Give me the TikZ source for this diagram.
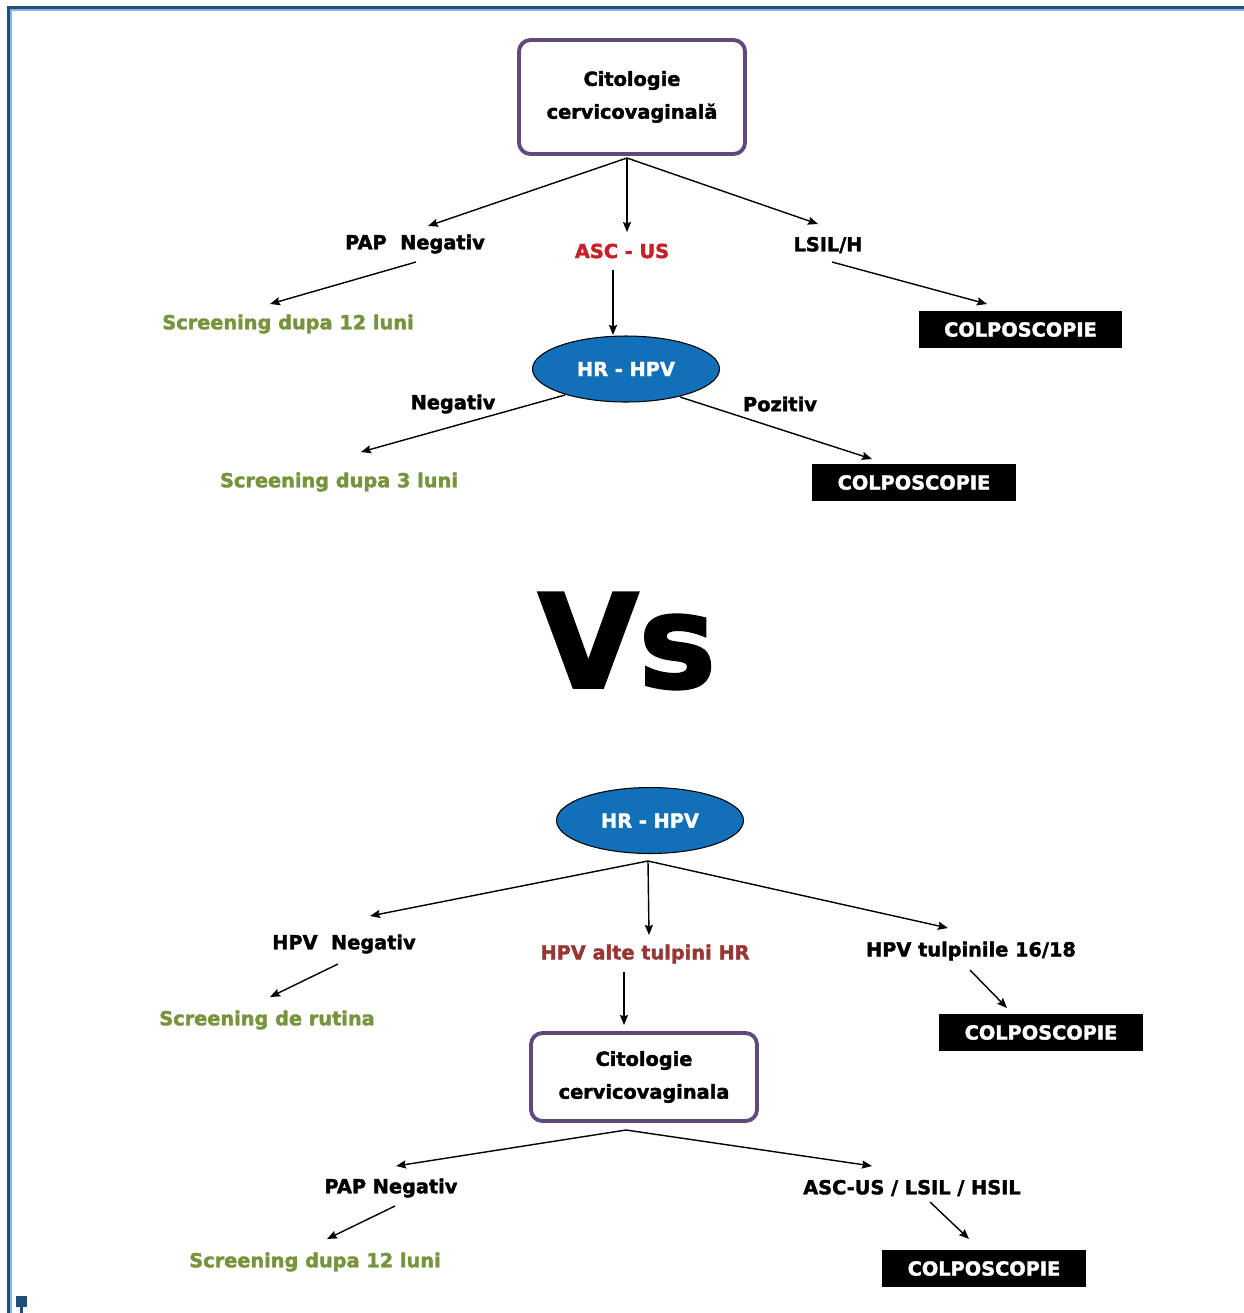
\documentclass[tikz,border=0pt]{standalone}
\usepackage{fontspec}
\setmainfont{DejaVu Sans}[BoldFeatures={FakeBold=2}]
\usetikzlibrary{arrows.meta,shapes.geometric,calc}
\definecolor{frameblue}{HTML}{1F4E79}
\definecolor{framelight}{HTML}{8DB3E2}
\definecolor{citpurple}{HTML}{604A7B}
\definecolor{hpvblue}{HTML}{1270B8}
\definecolor{scrgreen}{HTML}{77933C}
\definecolor{ascred}{HTML}{C8202A}
\definecolor{altred}{HTML}{953735}

\tikzset{
  lbl/.style={font=\fontsize{11}{13}\selectfont\bfseries, inner sep=2pt},
  scr/.style={lbl, text=scrgreen},
  citbox/.style={draw=citpurple, line width=2.2pt, rounded corners=6.5pt,
    minimum width=4.52cm, minimum height=2.28cm, align=center,
    font=\fontsize{11}{18.7}\selectfont\bfseries},
  hpv/.style={ellipse, draw=black, line width=0.6pt, fill=hpvblue, text=white,
    minimum width=3.74cm, minimum height=1.32cm, inner sep=0pt,
    font=\fontsize{11}{13}\selectfont\bfseries},
  colpo/.style={fill=black, text=white, minimum width=4.08cm, minimum height=0.74cm,
    inner sep=0pt, font=\fontsize{11}{13}\selectfont\bfseries},
  arr/.style={->, line width=0.8pt},
}

\begin{document}
\begin{tikzpicture}[x=0.02cm, y=-0.02cm,
    >={Stealth[length=5.7pt, width=4.6pt, inset=0.8pt]}]
\useasboundingbox (0,0) rectangle (1244,1313);

% page frame
\draw[framelight, line width=0.7pt] (11,1313) -- (11,10) -- (1244,10);
\draw[frameblue, line width=1.3pt] (8.5,1313) -- (8.5,7.5) -- (1244,7.5);
\fill[frameblue] (16,1296) rectangle (27,1307);
\fill[frameblue] (20,1307) rectangle (23,1313);

% --- first scheme: cytology first ---
\node[citbox] (box1) at (632,97) {Citologie\\cervicovaginală};
\coordinate (apex1) at (627,158);

\node[lbl] (pap1) at (415,244) {PAP\ \ Negativ};
\node[lbl, text=ascred] (asc1) at (622,251) {ASC - US};
\node[lbl] (lsil1) at (828,245) {LSIL/H};

\node[scr] (scr1) at (288,324) {Screening dupa 12 luni};
\node[colpo] (colpo1) at (1020.5,329.5) {COLPOSCOPIE};
\node[hpv] (hpv1) at (626,369) {HR - HPV};

\node[lbl] (neg1) at (453,404) {Negativ};
\node[lbl] (poz1) at (780,404) {Pozitiv};
\node[scr] (scr2) at (339,482) {Screening dupa 3 luni};
\node[colpo] (colpo2) at (914,482.5) {COLPOSCOPIE};

\draw[arr] (apex1) -- ($(pap1)+(13,-18)$);
\draw[arr] (apex1) -- ($(asc1)+(5,-19)$);
\draw[arr] (apex1) -- ($(lsil1)+(-10,-21)$);
\draw[arr] ($(pap1)+(1,18)$) -- ($(scr1)+(-18,-20)$);
\draw[arr] ($(lsil1)+(4,17)$) -- ($(colpo1)+(-33.5,-25.5)$);
\draw[arr] ($(asc1)+(-9,19)$) -- ($(hpv1)+(-13,-34)$);
\draw[arr] ($(hpv1)+(-61,26)$) -- ($(scr2)+(22,-30)$);
\draw[arr] ($(hpv1)+(54,28)$) -- ($(colpo2)+(-42,-23.5)$);

% versus
\node[font=\fontsize{74}{80}\selectfont\bfseries] (vs) at (627,641) {Vs};

% --- second scheme: HPV test first ---
\node[hpv] (hpv2) at (650,820.5) {HR - HPV};
\coordinate (apex2) at (648,861);

\node[lbl] (hneg) at (344,944) {HPV\ \ Negativ};
\node[lbl, text=altred] (halte) at (645,954) {HPV alte tulpini HR};
\node[lbl] (h1618) at (971,951) {HPV tulpinile 16/18};

\node[scr] (scr3) at (267,1020) {Screening de rutina};
\node[colpo] (colpo3) at (1041,1032.5) {COLPOSCOPIE};
\node[citbox, minimum height=1.76cm] (box2) at (644,1077) {Citologie\\cervicovaginala};
\coordinate (apex3) at (626,1130);

\node[lbl] (pap2) at (391,1188) {PAP Negativ};
\node[lbl] (ascl) at (912,1188) {ASC-US / LSIL / HSIL};
\node[scr] (scr4) at (315,1262) {Screening dupa 12 luni};
\node[colpo] (colpo4) at (984,1268.5) {COLPOSCOPIE};

\draw[arr] (apex2) -- ($(hneg)+(26,-28)$);
\draw[arr] (apex2) -- ($(halte)+(4,-19)$);
\draw[arr] (apex2) -- ($(h1618)+(-23,-23)$);
\draw[arr] ($(hneg)+(-6,20)$) -- ($(scr3)+(3,-23)$);
\draw[arr] ($(halte)+(-21,18)$) -- ($(box2)+(-20,-52)$);
\draw[arr] ($(h1618)+(-1,19)$) -- ($(colpo3)+(-34,-24.5)$);
\draw[arr] (apex3) -- ($(pap2)+(5,-22)$);
\draw[arr] (apex3) -- ($(ascl)+(-40,-22)$);
\draw[arr] ($(pap2)+(4,18)$) -- ($(scr4)+(12,-23)$);
\draw[arr] ($(ascl)+(18,14)$) -- ($(colpo4)+(-15,-29.5)$);
\end{tikzpicture}
\end{document}
